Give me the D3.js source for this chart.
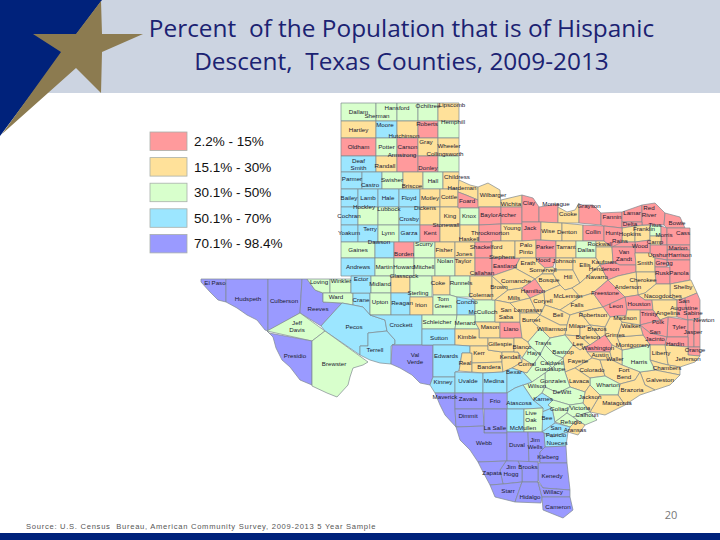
<!DOCTYPE html>
<html>
<head>
<meta charset="utf-8">
<script src="https://cdn.jsdelivr.net/npm/d3@7"></script>
<style>
html, body { margin: 0; padding: 0; background: #fff; }
svg { display: block; }
</style>
</head>
<body>
<div id="chart"></div>
<script>
// legend classes, index used by the county rows below
const classLabels = ["2.2% - 15%", "15.1% - 30%", "30.1% - 50%", "50.1% - 70%", "70.1% - 98.4%"];
const classColors = ["#ff9a9c", "#ffe19a", "#d8ffcc", "#9ce6ff", "#9a9aff"];

const titleLines = ["Percent  of the Population that is of Hispanic", "Descent,  Texas Counties, 2009-2013"];
const sourceNote = "Source: U.S. Census  Bureau, American Community Survey, 2009-2013 5 Year Sample";
const pageNumber = "20";

// county rows: name, class, outline in map units (two points = box), optional label point
const panhandle = [
  ["Dallam",2,"341,103 376,121"],["Sherman",2,"376,103 397,121",[377,116]],["Hansford",2,"397,103 418,121",[397,108]],
  ["Ochiltree",2,"418,103 438,121",[428,106]],["Lipscomb",1,"438,103 459,121",[452,105]],
  ["Hartley",1,"341,121 376,138"],["Moore",3,"376,121 397,138",[385,125]],["Hutchinson",1,"397,121 418,138",[404,136]],
  ["Roberts",0,"418,121 438,138",[427,124]],["Hemphill",2,"438,121 459,138",[453,122]],
  ["Oldham",0,"341,138 376,156"],["Potter",2,"376,138 397,156"],["Carson",0,"397,138 418,156"],
  ["Gray",1,"418,138 438,156",[426,142]],["Wheeler",1,"438,138 459,156",[449,146]],
  ["Deaf\nSmith",3,"341,156 376,172"],["Randall",1,"376,156 397,172",[385,166]],["Armstrong",0,"397,156 418,172",[402,155]],
  ["Donley",0,"418,156 438,172",[428,168]],["Collingsworth",2,"438,156 459,172",[445,154]],
  ["Parmer",3,"341,172 362,189",[352,179]],["Castro",3,"362,172 382,189",[370,185]],["Swisher",2,"382,172 403,189",[392,180]],
  ["Briscoe",1,"403,172 423,189",[412,186]],["Hall",2,"423,172 443,189"],["Childress",1,"443,172 459,189",[457,177]],
  ["Bailey",3,"341,189 358,207",[349,198]],["Lamb",3,"358,189 378,207",[368,198]],["Hale",3,"378,189 399,207",[388,198]],
  ["Floyd",3,"399,189 420,207",[409,198]],["Motley",1,"420,189 440,207",[430,198]],["Cottle",1,"440,189 458,207",[449,197]],
  ["Cochran",3,"341,207 358,225",[349,216]],["Hockley",2,"358,207 378,225",[364,207]],["Lubbock",2,"378,207 399,225",[389,209]],
  ["Crosby",3,"399,207 420,225",[409,219]],["Dickens",1,"420,207 440,225",[425,208]],["King",1,"440,207 460,225",[450,216]],
  ["Yoakum",3,"341,225 358,242",[349,233]],["Terry",3,"358,225 378,242",[370,229]],["Lynn",2,"378,225 399,242",[388,233]],
  ["Garza",3,"399,225 420,242",[409,233]],["Kent",0,"420,225 440,242",[430,233]],["Stonewall",1,"440,225 460,242",[446,225]],
  ["Gaines",2,"341,242 375,258"],["Dawson",3,"375,242 394,258",[379,242]],["Borden",0,"394,242 414,258",[404,254]],
  ["Scurry",2,"414,242 435,258",[424,244]],["Fisher",1,"435,242 455,258",[444,250]],
  ["Andrews",3,"341,258 375,276"],["Martin",2,"375,258 394,276",[384,267]],["Howard",2,"394,258 414,276",[404,267]],
  ["Mitchell",2,"414,258 435,276",[424,267]],["Nolan",2,"435,258 455,276",[445,261]],
];

const trans_pecos = [
  ["El Paso",4,"201,279 226,279 226,302 218,300 210,292 201,282",[215,283]],
  ["Hudspeth",4,"226,279 268,279 268,331 265,330 257,320 247,315 237,308 226,302",[248,299]],
  ["Culberson",4,"268,279 302,279 300,313 268,331",[284,301]],
  ["Reeves",4,"302,279 307,279 315,290 323,293 323,302 342,303 321,326 300,313",[318,309]],
  ["Loving",2,"307,279 330,279 330,293 323,293 315,290",[319,282]],
  ["Winkler",2,"330,279 351,279 351,293 330,293",[341,281]],
  ["Ward",2,"323,293 353,293 353,305 342,303 323,302",[336,297]],
  ["Crane",3,"353,293 370,293 370,315 363,307 353,305",[361,300]],
  ["Ector",3,"351,276 371,276 371,293 351,293",[361,279]],
  ["Midland",2,"371,276 391,276 391,293 371,293",[380,284]],
  ["Glasscock",1,"391,276 410,276 410,293 391,293",[404,276]],
  ["Sterling",2,"410,276 432,276 432,297 410,297",[418,293]],
  ["Upton",2,"370,293 391,293 391,315 370,315",[380,302]],
  ["Reagan",3,"391,293 410,293 410,315 391,315",[402,303]],
  ["Irion",1,"410,297 433,297 433,315 410,315",[421,305]],
  ["Pecos",3,"342,303 353,305 363,307 370,315 385,320 387,331 368,333 368,346 360,346 360,355 325,331 321,326",[354,327]],
  ["Terrell",3,"368,333 387,331 395,340 395,344 391,346 391,364 380,363 370,360 360,355 360,346 368,346",[375,350]],
  ["Crockett",3,"370,315 422,315 422,345 392,345 395,344 395,340 387,331 385,320",[401,325]],
  ["Jeff\nDavis",2,"267,331 300,313 325,331 312,341",[297,326]],
  ["Presidio",4,"267,331 269,333 312,341 312,385 300,380 290,367 282,360 278,352 276,348 273,337",[295,356]],
  ["Brewster",2,"312,341 325,331 368,362 363,365 353,368 350,377 348,385 337,397 327,393 312,386",[334,364]],
  ["Val\nVerde",4,"392,345 433,345 433,377 430,385 420,383 412,375 400,368 391,364",[415,358]],
];

const rolling_plains = [
  ["Hardeman",1,"459,180 470,185 478,187 478,200 466,195 458,192",[462,188]],
  ["Foard",0,"458,192 466,195 478,200 479,208 458,208",[467,201]],
  ["Wilbarger",1,"478,187 488,183 500,190 501,207 478,207",[493,195]],
  ["Wichita",1,"501,200 522,195 522,207 501,207",[511,204]],
  ["Knox",2,"460,208 479,208 479,225 460,225",[469,216]],
  ["Baylor",0,"479,207 501,207 501,224 479,225",[489,215]],
  ["Archer",0,"501,207 522,207 522,224 501,224",[507,215]],
  ["Haskell",1,"460,225 479,225 479,242 460,242",[469,239]],
  ["Throckmorton",0,"479,225 501,224 501,241 492,241 492,242 479,242",[490,233]],
  ["Young",1,"501,224 522,224 522,241 501,241",[512,228]],
  ["Jones",1,"455,242 475,242 475,258 455,258",[464,254]],
  ["Shackelford",0,"475,242 492,242 492,258 475,258",[486,247]],
  ["Stephens",1,"492,241 515,241 515,258 492,258",[502,257]],
  ["Taylor",1,"455,258 475,258 475,276 455,276",[463,261]],
  ["Callahan",0,"475,258 492,258 492,276 475,276",[482,273]],
  ["Eastland",0,"492,258 520,258 515,268 492,276",[505,266]],
  ["Coke",1,"432,276 450,276 450,295 433,295",[438,283]],
  ["Runnels",2,"450,276 470,276 470,297 457,297 450,295",[461,283]],
  ["Coleman",1,"470,276 492,276 492,300 475,300 470,297",[481,295]],
  ["Tom\nGreen",2,"433,295 450,295 457,297 457,315 433,315",[443,302]],
  ["Concho",3,"457,297 475,300 475,315 457,315",[467,302]],
  ["McCulloch",2,"475,300 495,300 495,322 475,322",[483,312]],
  ["Brown",1,"492,276 508,290 495,300 492,300",[499,287]],
  ["Schleicher",2,"422,315 457,315 455,329 422,329",[437,322]],
  ["Menard",2,"457,315 475,315 475,322 479,329 455,329",[465,323]],
  ["Mason",1,"475,322 500,322 500,338 479,338 479,329",[490,327]],
  ["Sutton",3,"422,329 455,329 455,345 422,345",[439,338]],
  ["Kimble",1,"455,329 479,329 479,338 488,338 488,346 470,346 455,345",[467,337]],
  ["Edwards",3,"433,345 455,345 470,346 470,353 462,353 459,371 455,372 455,377 433,377",[446,356]],
  ["Real",1,"462,353 472,353 472,372 459,371",[465,363]],
  ["Kerr",1,"470,346 488,346 488,350 502,352 502,362 472,363 472,353 470,353",[479,353]],
  ["Gillespie",1,"488,338 514,338 514,352 502,352 488,350",[500,344]],
  ["Llano",0,"500,322 520,322 522,338 500,338",[511,329]],
  ["Bandera",1,"472,363 502,362 503,372 483,373 472,372",[489,367]],
  ["Kendall",1,"502,352 518,352 522,362 512,368 503,372 502,363",[510,357]],
  ["Blanco",1,"514,338 522,338 528,342 530,346 522,358 518,352 514,352",[522,347]],
];

const cross_timbers = [
  ["Clay",0,"522,195 533,198 539,207 539,222 522,222",[529,203]],
  ["Montague",0,"539,207 558,204 558,223 539,222",[556,204]],
  ["Cooke",1,"558,207 567,212 575,210 579,203 579,223 558,223",[568,214]],
  ["Grayson",0,"579,205 593,205 601,213 601,225 579,223",[589,206]],
  ["Jack",0,"522,222 541,222 541,240 522,241",[530,228]],
  ["Wise",1,"541,222 562,223 562,241 541,240",[548,231]],
  ["Denton",1,"562,223 583,225 583,241 562,241",[567,232]],
  ["Collin",0,"583,225 604,226 604,241 583,241",[593,232]],
  ["Palo\nPinto",1,"515,241 522,241 536,240 536,258 515,258",[526,248]],
  ["Parker",0,"536,240 556,241 556,258 536,258",[545,247]],
  ["Tarrant",1,"556,241 576,241 576,258 556,258",[566,247]],
  ["Dallas",2,"576,241 596,241 596,258 576,258",[586,250]],
  ["Rockwall",1,"596,241 604,241 612,247 596,247",[600,244]],
  ["Kaufman",1,"596,247 612,247 613,262 600,265 596,258",[604,262]],
  ["Hood",0,"536,258 556,258 553,267 545,268 538,262",[543,260]],
  ["Johnson",1,"556,258 573,258 573,270 555,270",[564,261]],
  ["Erath",1,"520,258 536,258 538,262 545,268 542,274 535,279 515,268",[528,263]],
  ["Somervell",1,"545,268 553,267 555,270 553,274 542,274",[543,270]],
  ["Comanche",1,"492,276 515,268 535,279 522,288 508,290",[516,281]],
  ["Bosque",1,"535,279 542,274 553,274 560,285 544,292",[549,280]],
  ["Hill",1,"555,270 573,270 580,283 572,288 565,290 560,285 553,274",[568,277]],
  ["Ellis",1,"573,258 596,258 600,265 580,283 573,270",[585,265]],
  ["Navarro",1,"580,283 600,265 608,280 593,293 580,297 572,288",[597,277]],
  ["Hamilton",0,"522,288 535,279 544,292 530,298",[533,291]],
  ["Mills",1,"508,290 522,288 530,298 510,303 495,300",[514,298]],
  ["San\nSaba",1,"495,300 510,303 520,313 520,322 495,322",[506,313]],
  ["Lampasas",1,"510,303 530,298 537,313 520,313",[528,310]],
  ["Coryell",1,"530,298 544,292 545,305 540,315 537,313",[543,301]],
  ["McLennan",1,"544,292 560,285 565,290 572,288 580,297 560,310 545,305",[568,296]],
  ["Falls",1,"580,297 593,293 603,307 580,312 570,315 560,310",[577,305]],
  ["Bell",1,"545,305 560,310 570,315 567,325 560,325 540,315",[558,315]],
  ["Burnet",1,"520,313 537,313 540,315 533,322 540,328 528,342 522,338 520,322",[531,320]],
  ["Williamson",1,"533,322 540,315 560,325 567,325 565,335 550,338 540,328",[552,329]],
  ["Milam",1,"567,325 570,315 580,312 590,325 580,328 580,336 565,335",[577,326]],
];

const east_texas = [
  ["Fannin",0,"601,213 622,212 622,228 604,226 601,225",[612,217]],
  ["Lamar",0,"622,212 642,205 642,222 622,222",[632,213]],
  ["Red\nRiver",0,"642,205 655,203 665,213 664,225 642,225",[649,211]],
  ["Bowie",0,"665,213 680,217 685,228 667,228 664,225",[677,223]],
  ["Delta",0,"622,222 642,222 642,225 622,228",[630,224]],
  ["Hopkins",1,"622,228 635,226 635,242 622,242",[630,234]],
  ["Franklin",1,"635,226 650,225 650,240 635,242",[644,229]],
  ["Titus",2,"650,225 661,226 661,236 650,236",[655,225]],
  ["Morris",0,"661,226 667,228 667,245 661,245",[664,235]],
  ["Camp",1,"650,236 661,236 661,245 650,245",[655,242]],
  ["Cass",0,"667,228 690,228 690,245 667,245",[683,233]],
  ["Marion",0,"667,245 690,245 690,250 667,250",[678,248]],
  ["Harrison",0,"667,250 690,250 690,260 667,260",[680,255]],
  ["Upshur",0,"650,245 667,245 667,260 655,258 650,253",[658,255]],
  ["Wood",0,"635,242 650,240 650,253 635,253",[640,246]],
  ["Rains",0,"612,242 635,242 635,247 612,247",[620,241]],
  ["Hunt",0,"604,226 622,228 622,242 612,247 604,241",[612,233]],
  ["Van\nZandt",0,"612,247 635,247 635,253 636,265 620,265 613,262",[624,255]],
  ["Henderson",0,"600,265 613,262 620,265 636,265 636,272 618,276 608,280",[604,269]],
  ["Smith",1,"635,253 650,253 655,258 655,272 636,272 636,265",[645,263]],
  ["Gregg",0,"655,258 667,260 667,267 655,267",[664,263]],
  ["Rusk",0,"655,267 670,267 670,284 656,284",[662,273]],
  ["Panola",0,"667,260 690,260 690,280 670,284 670,267",[679,273]],
  ["Shelby",1,"670,284 691,280 697,293 685,298 677,300 670,297",[683,287]],
  ["Cherokee",1,"636,272 655,272 656,284 645,293 638,295",[643,280]],
  ["Anderson",1,"618,276 636,272 638,295 625,297 608,280",[628,287]],
  ["Nacogdoches",1,"656,284 670,284 670,297 677,300 652,300 645,300 638,295 645,293",[663,296]],
  ["Houston",0,"625,297 638,295 645,300 652,300 653,310 640,310 627,310",[639,304]],
  ["Freestone",0,"593,293 608,280 625,297 603,307",[605,293]],
  ["Leon",0,"603,307 625,297 627,310 626,316 617,316 610,317",[616,306]],
  ["Angelina",1,"652,300 677,300 677,317 668,317 660,320 653,310",[668,313]],
  ["Trinity",0,"640,310 653,310 660,320 640,325",[649,314]],
  ["San\nAugustine",0,"677,300 685,298 688,320 677,317",[684,304]],
  ["Sabine",0,"685,298 697,293 700,300 700,318 688,320",[693,313]],
  ["Tyler",0,"668,317 688,320 688,337 667,337",[679,327]],
  ["Polk",0,"640,325 660,320 668,317 667,337 650,333",[658,322]],
  ["San\nJacinto",0,"640,325 650,333 667,337 665,345 650,345 643,335",[655,335]],
  ["Jasper",0,"688,320 694,320 694,347 688,347",[693,332]],
  ["Newton",0,"694,320 700,318 700,347 694,347",[704,320]],
  ["Hardin",0,"667,337 688,337 688,347 665,345",[675,344]],
  ["Orange",0,"688,347 700,347 700,356 688,355",[695,350]],
  ["Jefferson",1,"665,345 688,347 688,355 700,356 695,362 680,367 668,365",[688,359]],
  ["Liberty",1,"650,345 665,345 668,365 660,363 650,360",[661,353]],
  ["Chambers",1,"650,360 660,363 668,365 680,367 680,375 655,370",[667,368]],
  ["Galveston",1,"640,372 655,370 680,375 670,385 655,390 645,385",[660,380]],
  ["Harris",2,"622,350 650,345 650,360 655,370 640,372 622,365",[639,362]],
  ["Montgomery",1,"617,337 643,335 650,345 622,350",[633,345]],
  ["Walker",1,"622,322 640,325 643,335 617,337",[631,326]],
  ["Madison",1,"617,316 626,316 627,310 640,310 640,325 622,322",[625,318]],
  ["Grimes",1,"605,327 610,317 617,316 622,322 617,337 622,350 612,345 605,335",[615,335]],
];

const gulf_coast = [
  ["Robertson",1,"580,312 603,307 610,317 605,327 590,325",[593,315]],
  ["Brazos",1,"590,325 605,327 605,335 600,338",[597,329]],
  ["Burleson",1,"580,328 590,325 600,338 590,345 580,336",[588,337]],
  ["Lee",1,"565,335 580,336 590,345 585,347 580,350 573,345",[578,344]],
  ["Washington",0,"590,345 600,338 605,335 612,345 610,352 587,352 585,347",[598,348]],
  ["Austin",1,"587,352 610,352 612,360 600,360 592,358",[600,355]],
  ["Waller",1,"610,352 612,345 622,350 622,365 612,360",[615,359]],
  ["Bastrop",2,"550,338 565,335 573,345 563,358 555,355 545,345",[563,352]],
  ["Fayette",1,"563,358 573,345 580,350 585,347 587,352 592,358 575,368 565,372",[578,361]],
  ["Colorado",1,"575,368 592,358 600,360 605,376 590,378",[592,370]],
  ["Fort\nBend",1,"600,360 612,360 622,365 640,372 635,380 620,384 605,376",[624,373]],
  ["Brazoria",1,"620,384 635,380 640,372 645,385 655,390 640,395 625,405 618,395",[632,390]],
  ["Wharton",2,"590,378 605,376 620,384 618,395 600,395 590,385",[608,385]],
  ["Matagorda",1,"600,395 618,395 625,405 605,415 590,412",[617,403]],
  ["Lavaca",1,"565,372 575,368 590,378 590,385 585,392 570,387",[579,381]],
  ["Jackson",1,"590,385 600,395 590,412 583,403 585,392",[590,397]],
  ["Travis",2,"528,342 540,328 550,338 545,345 540,355 530,346",[543,343]],
  ["Hays",2,"530,346 540,355 533,365 522,358",[534,353]],
  ["Comal",1,"512,368 522,362 522,358 533,365 527,373 523,372",[527,364]],
  ["Caldwell",2,"540,355 545,345 555,355 563,358 552,368 545,360",[552,363]],
  ["Guadalupe",2,"527,373 533,365 540,355 545,360 552,368 545,373 532,382 523,372",[550,369]],
  ["Gonzales",2,"545,373 552,368 563,358 565,372 570,387 558,393 545,387",[553,381]],
  ["Wilson",2,"523,385 532,382 545,373 545,387 542,393 533,400",[537,386]],
  ["DeWitt",2,"558,393 570,387 585,392 583,403 570,405 553,400 542,393 545,387",[562,392]],
  ["Karnes",3,"533,400 542,393 553,400 548,405 552,408 542,412 543,408",[543,399]],
  ["Goliad",2,"548,405 553,400 570,405 567,413 555,422 552,408",[559,409]],
  ["Victoria",2,"570,405 583,403 590,412 573,417 567,413",[580,408]],
  ["Calhoun",2,"573,417 590,412 597,420 585,425 577,420",[587,415]],
  ["Refugio",2,"555,422 567,413 573,417 577,420 570,427",[571,422]],
  ["Aransas",1,"570,427 577,420 585,425 578,435 568,432",[575,430]],
  ["Bee",3,"542,412 552,408 555,423 542,432",[547,418]],
  ["San\nPatricio",3,"542,432 555,423 570,427 568,432 552,437 544,433",[556,431]],
  ["Nueces",3,"544,433 552,437 568,432 566,446 545,447",[557,443]],
];

const south_texas = [
  ["Kinney",3,"433,377 455,377 455,393 435,393 430,385",[443,382]],
  ["Uvalde",3,"455,372 483,373 483,393 455,393",[468,381]],
  ["Medina",3,"483,373 503,372 507,370 507,393 483,393",[494,381]],
  ["Bexar",3,"507,370 512,368 523,372 532,382 523,385 515,388 507,393",[514,372]],
  ["Atascosa",3,"507,393 515,388 523,385 533,400 543,408 524,409 507,409",[519,403]],
  ["Maverick",4,"435,393 455,393 455,409 456,427 445,415 440,405",[445,397]],
  ["Zavala",4,"455,393 483,393 483,409 455,409",[468,399]],
  ["Frio",4,"483,393 507,393 507,409 483,409",[495,401]],
  ["Dimmit",4,"455,409 483,409 484,426 456,427",[468,416]],
  ["La Salle",4,"484,409 507,409 507,433 484,433",[495,428]],
  ["McMullen",3,"507,409 524,409 524,432 507,432",[523,428]],
  ["Live\nOak",2,"524,409 543,408 542,432 524,432",[531,416]],
  ["Webb",4,"456,427 484,426 484,433 507,433 507,461 478,462 470,450 460,440",[484,443]],
  ["Duval",4,"507,432 528,432 529,462 507,461",[517,445]],
  ["Jim\nWells",4,"528,432 542,432 544,433 545,447 540,452 540,462 529,462",[535,443]],
  ["Kleberg",4,"540,452 545,447 566,446 567,463 540,463",[548,457]],
  ["Kenedy",4,"538,463 567,463 570,490 543,488 538,480",[552,476]],
  ["Brooks",4,"518,461 538,462 538,482 522,482 522,470",[528,467]],
  ["Jim\nHogg",4,"506,461 518,461 522,470 522,482 503,484 500,470",[511,470]],
  ["Zapata",4,"478,462 506,461 500,470 503,484 490,485 482,470",[492,473]],
  ["Starr",4,"503,484 522,482 515,502 495,497 490,485",[508,491]],
  ["Hidalgo",4,"522,482 538,482 542,497 541,503 515,502",[530,497]],
  ["Willacy",4,"538,482 543,488 570,490 570,497 542,497",[553,492]],
  ["Cameron",4,"542,497 570,497 573,510 563,518 543,510",[558,507]],
];

const allCounties = [panhandle, trans_pecos, rolling_plains, cross_timbers, east_texas, gulf_coast, south_texas].flat();

const width = 720, height = 540;
const svg = d3.select("#chart").append("svg").attr("width", width).attr("height", height);

// map units
const x = d3.scaleLinear().domain([0, 720]).range([0, width]);
const y = d3.scaleLinear().domain([0, 540]).range([0, height]);
const color = d3.scaleOrdinal().domain(d3.range(5)).range(classColors);

function outline(str) {
  let pts = str.split(" ").map(p => p.split(",").map(Number));
  if (pts.length == 2) {
    let [a, b] = pts;
    pts = [a, [b[0], a[1]], b, [a[0], b[1]]];
  }
  return pts;
}

// header
svg.append("rect").attr("width", width).attr("height", 93).attr("fill", "#ccd4e1");
svg.append("path").attr("d", "M0,0L102,0L0,136Z").attr("fill", "#00227b");
svg.append("path")
  .attr("d", "M101,1L102,34L143,34L102,52L101,93L76,68L2,134L61,52L33,34L76,34Z")
  .attr("fill", "#8c7b50");

svg.selectAll(".title").data(titleLines).enter().append("text")
  .attr("class", "title")
  .attr("x", 401.5)
  .attr("y", (d, i) => 37 + i * 33)
  .attr("text-anchor", "middle")
  .attr("font-family", "'Open Sans', sans-serif")
  .attr("font-size", 24.4)
  .attr("fill", "#1b2272")
  .style("white-space", "pre")
  .text(d => d);

// map
const line = d3.line().x(d => x(d[0])).y(d => y(d[1])).curve(d3.curveLinearClosed);

svg.append("g").selectAll("path").data(allCounties).enter().append("path")
  .attr("d", d => line(outline(d[2])))
  .attr("fill", d => color(d[1]))
  .attr("stroke", "#7f8a8f")
  .attr("stroke-width", 0.7)
  .attr("stroke-linejoin", "round");

const labels = svg.append("g")
  .attr("font-family", "'Liberation Sans', Arial, sans-serif")
  .attr("font-size", 6.2)
  .attr("fill", "#1a2030")
  .attr("text-anchor", "middle");

labels.selectAll("text").data(allCounties).enter().append("text")
  .each(function(d) {
    let pos = d[3] || d3.polygonCentroid(outline(d[2]));
    let parts = d[0].split("\n");
    d3.select(this).selectAll("tspan").data(parts).enter().append("tspan")
      .attr("x", x(pos[0]))
      .attr("y", (p, i) => y(pos[1]) + 2 + (i - (parts.length - 1) / 2) * 7)
      .text(p => p);
  });

// legend
const legend = svg.append("g").selectAll("g").data(classLabels).enter().append("g")
  .attr("transform", (d, i) => `translate(150,${132 + i * 25.6})`);

legend.append("rect")
  .attr("width", 37).attr("height", 18.5)
  .attr("fill", (d, i) => classColors[i])
  .attr("stroke", "#a9b0aa").attr("stroke-width", 0.8);

legend.append("text")
  .attr("x", 44).attr("y", 14)
  .attr("font-family", "'Liberation Sans', Arial, sans-serif")
  .attr("font-size", 13.5)
  .attr("fill", "#111")
  .text(d => d);

// footer
svg.append("text").attr("x", 26).attr("y", 529)
  .attr("font-family", "'Liberation Sans', Arial, sans-serif")
  .attr("font-size", 7.6).attr("letter-spacing", 0.72).attr("fill", "#555")
  .style("white-space", "pre")
  .text(sourceNote);

svg.append("text").attr("x", 671).attr("y", 519)
  .attr("text-anchor", "middle")
  .attr("font-family", "'Open Sans', sans-serif")
  .attr("font-size", 11).attr("fill", "#777")
  .text(pageNumber);

svg.append("rect").attr("y", 533).attr("width", width).attr("height", 7).attr("fill", "#00227b");
</script>
</body>
</html>
